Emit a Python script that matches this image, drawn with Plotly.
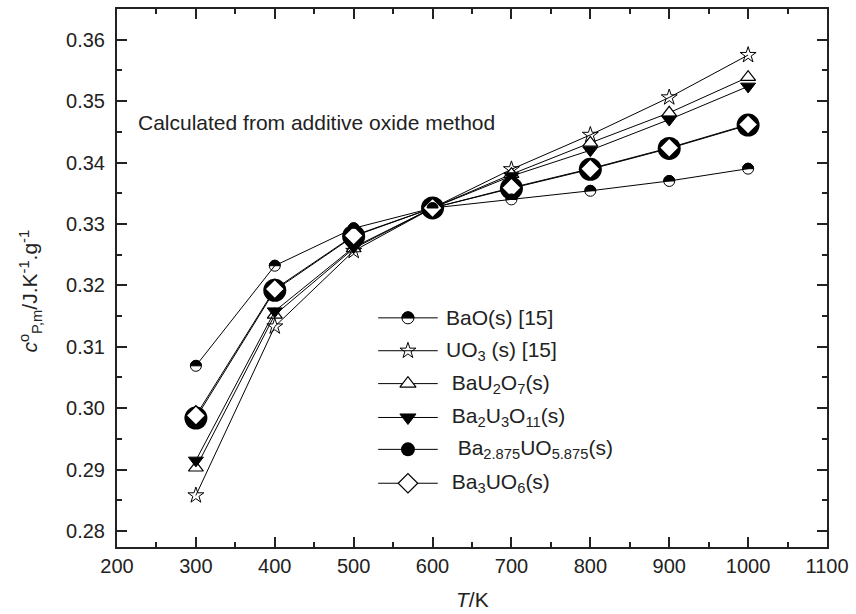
import plotly.graph_objects as go

# ---------------- data ----------------
T = [300, 400, 500, 600, 700, 800, 900, 1000]
BaO = [0.3069, 0.3232, 0.3293, 0.3326, 0.3340, 0.3354, 0.3370, 0.3390]
UO3 = [0.2858, 0.3133, 0.3256, 0.3326, 0.3389, 0.3445, 0.3506, 0.3575]
BaU2O7 = [0.2903, 0.3152, 0.3260, 0.3326, 0.3381, 0.3432, 0.3481, 0.3539]
Ba2U3O11 = [0.2915, 0.3158, 0.3262, 0.3326, 0.3378, 0.3420, 0.3470, 0.3524]
Ba2875 = [0.2984, 0.3192, 0.3280, 0.3326, 0.3358, 0.3389, 0.3423, 0.3461]
Ba3UO6 = [0.2988, 0.3194, 0.3281, 0.3326, 0.3359, 0.3390, 0.3424, 0.3462]

legend_labels = [
    "BaO(s) [15]",
    "UO<sub>3</sub> (s) [15]",
    " BaU<sub>2</sub>O<sub>7</sub>(s)",
    " Ba<sub>2</sub>U<sub>3</sub>O<sub>11</sub>(s)",
    "  Ba<sub>2.875</sub>UO<sub>5.875</sub>(s)",
    " Ba<sub>3</sub>UO<sub>6</sub>(s)",
]
note = "Calculated from additive oxide method"

FONT = "Liberation Sans, Arial, sans-serif"
W, H = 856, 614
L, R, TOP, B = 117, 24, 7, 67
PW, PH = W - L - R, H - TOP - B

def px2paper_x(px):
    return (px - L) / PW

def px2paper_y(py):
    return (H - B - py) / PH

fig = go.Figure()

styles = [
    dict(symbol="circle-open", size=11, color="black", line=dict(color="black", width=1)),
    dict(symbol="star-open", size=12, color="black", line=dict(color="black", width=1)),
    dict(symbol="triangle-up", size=13, color="white", line=dict(color="black", width=1.2)),
    dict(symbol="triangle-down", size=13, color="black", line=dict(color="black", width=1)),
    dict(symbol="circle", size=23, color="black", line=dict(color="black", width=0)),
    dict(symbol="diamond", size=15, color="white", line=dict(color="black", width=1.5)),
]
series = [BaO, UO3, BaU2O7, Ba2U3O11, Ba2875, Ba3UO6]

for ys, st in zip(series, styles):
    fig.add_trace(go.Scatter(x=T, y=ys, mode="lines+markers",
                             line=dict(color="black", width=1),
                             marker=st, showlegend=False, hoverinfo="skip"))

# half-filled tops for BaO markers
r = 5.5
k = 0.5523 * r
half = (f"M {-r},0 C {-r},{k} {-k},{r} 0,{r} C {k},{r} {r},{k} {r},0 Z")
shapes = []
for xv, yv in zip(T, BaO):
    shapes.append(dict(type="path", xref="x", yref="y", xsizemode="pixel", ysizemode="pixel",
                       xanchor=xv, yanchor=yv, path=half,
                       fillcolor="black", line=dict(color="black", width=1)))

# custom legend (overlay axes in paper-like units)
rows_py = [317, 350, 383, 417, 449, 483]
x0p, x1p, xmp = px2paper_x(380), px2paper_x(440), px2paper_x(410)
xtp = px2paper_x(446)
leg_styles = [
    dict(symbol="circle-open", size=12, color="black", line=dict(color="black", width=1)),
    dict(symbol="star-open", size=12, color="black", line=dict(color="black", width=1)),
    dict(symbol="triangle-up", size=14, color="white", line=dict(color="black", width=1.2)),
    dict(symbol="triangle-down", size=14, color="black", line=dict(color="black", width=1)),
    dict(symbol="circle", size=14, color="black", line=dict(color="black", width=0)),
    dict(symbol="diamond", size=15, color="white", line=dict(color="black", width=1.2)),
]
annotations = []
for i, (py, st, lab) in enumerate(zip(rows_py, leg_styles, legend_labels)):
    yp = px2paper_y(py)
    fig.add_trace(go.Scatter(x=[x0p, x1p], y=[yp, yp], mode="lines", xaxis="x2", yaxis="y2",
                             line=dict(color="black", width=1), showlegend=False, hoverinfo="skip"))
    fig.add_trace(go.Scatter(x=[xmp], y=[yp], mode="markers", xaxis="x2", yaxis="y2",
                             marker=st, showlegend=False, hoverinfo="skip"))
    annotations.append(dict(x=xtp, y=yp, xref="paper", yref="paper", text=lab, showarrow=False,
                            xanchor="left", yanchor="middle", font=dict(size=21, color="#222")))
    if i == 0:
        rr = 6
        kk = 0.5523 * rr
        shapes.append(dict(type="path", xref="paper", yref="paper", xsizemode="pixel",
                           ysizemode="pixel", xanchor=xmp, yanchor=yp,
                           path=f"M {-rr},0 C {-rr},{kk} {-kk},{rr} 0,{rr} C {kk},{rr} {rr},{kk} {rr},0 Z",
                           fillcolor="black", line=dict(color="black", width=1)))

annotations.append(dict(x=px2paper_x(136), y=px2paper_y(121), xref="paper", yref="paper", text=note,
                        showarrow=False, xanchor="left", yanchor="middle",
                        font=dict(size=21, color="#222")))
annotations.append(dict(x=px2paper_x(30), y=px2paper_y(290), xref="paper", yref="paper",
                        text="<i>c</i><sup>o</sup><sub>P,m</sub>/J.K<sup>-1</sup>.g<sup>-1</sup>",
                        textangle=-90, showarrow=False, xanchor="center", yanchor="middle",
                        font=dict(size=21, color="#222")))
annotations.append(dict(x=0.5, y=px2paper_y(600), xref="paper", yref="paper",
                        text="<i>T</i>/K", showarrow=False, xanchor="center", yanchor="middle",
                        font=dict(size=21, color="#222")))

axis_common = dict(showline=True, linewidth=2, linecolor="#222", mirror="ticks",
                   ticks="inside", ticklen=10, tickwidth=2, tickcolor="#222",
                   showgrid=False, zeroline=False,
                   tickfont=dict(size=20, color="#222", family=FONT))

fig.update_layout(
    width=W, height=H,
    margin=dict(l=L, r=R, t=TOP, b=B),
    paper_bgcolor="white", plot_bgcolor="white",
    font=dict(family=FONT, color="#222"),
    xaxis=dict(range=[200, 1100], dtick=100, tick0=200,
               minor=dict(dtick=50, ticks="inside", ticklen=5, tickwidth=2, tickcolor="#222"),
               **axis_common),
    yaxis=dict(range=[0.2774, 0.365], dtick=0.01, tick0=0.28, tickformat=".2f",
               ticklabelstandoff=6,
               minor=dict(dtick=0.005, ticks="inside", ticklen=5, tickwidth=2, tickcolor="#222"),
               **axis_common),
    xaxis2=dict(range=[0, 1], overlaying="x", visible=False, fixedrange=True),
    yaxis2=dict(range=[0, 1], overlaying="y", visible=False, fixedrange=True),
    shapes=shapes,
    annotations=annotations,
)

fig.write_html("out.html")
